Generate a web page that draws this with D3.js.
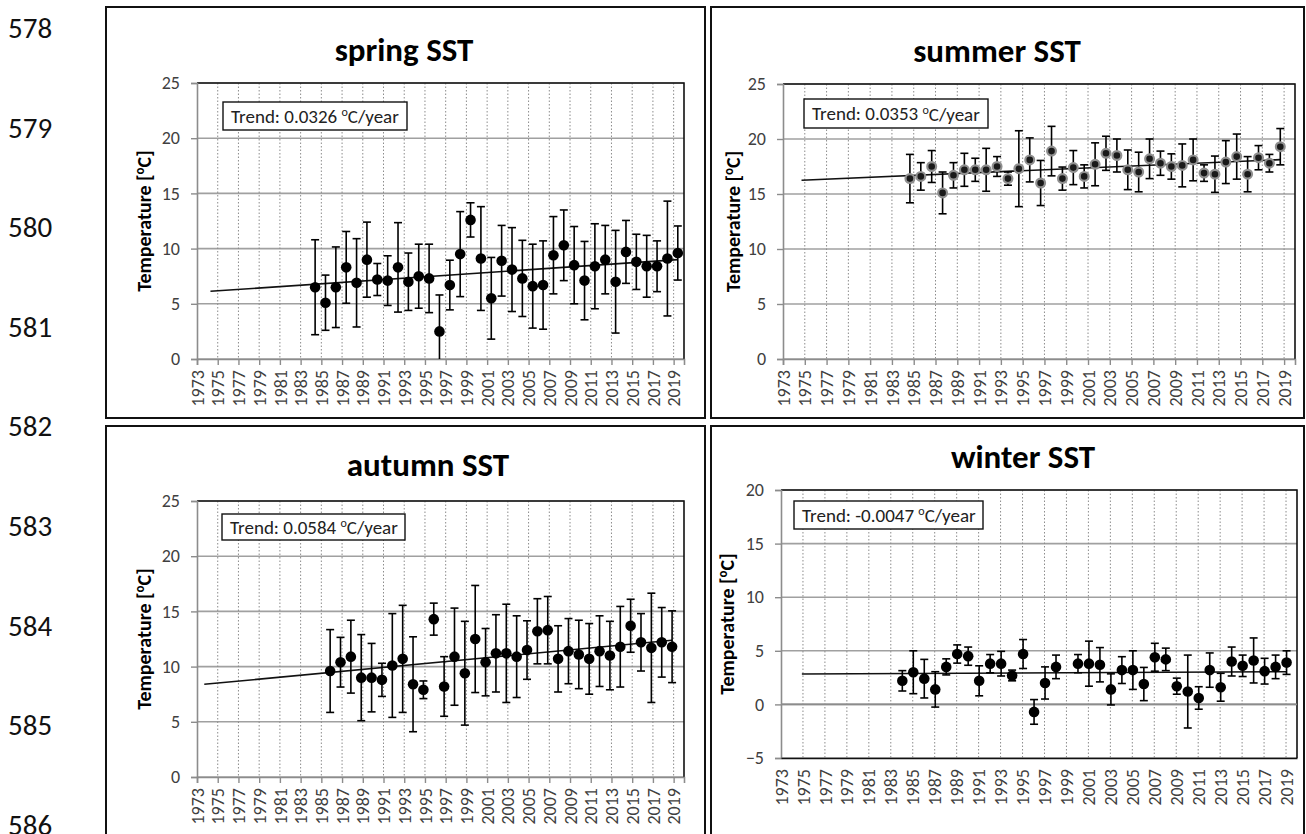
<!DOCTYPE html>
<html>
<head>
<meta charset="utf-8">
<script src="https://cdn.jsdelivr.net/npm/d3@7/dist/d3.min.js"></script>
<style>
  body { margin: 0; background: #fff; }
  svg { display: block; }
  text { font-family: Carlito, Lato, "Open Sans", sans-serif; }
</style>
</head>
<body>
<svg id="chart" width="1306" height="834"></svg>
<script>
// Manuscript line numbers shown in the left margin
const lineNumbers = [578, 579, 580, 581, 582, 583, 584, 585, 586];

// Year labels on the time axis (every second year)
const yearLabels = [1973, 1975, 1977, 1979, 1981, 1983, 1985, 1987, 1989, 1991, 1993, 1995,
  1997, 1999, 2001, 2003, 2005, 2007, 2009, 2011, 2013, 2015, 2017, 2019];

// Spring SST: seasonal mean and standard deviation (°C)
const springYears = [1984, 1985, 1986, 1987, 1988, 1989, 1990, 1991, 1992, 1993, 1994, 1995,
  1996, 1997, 1998, 1999, 2000, 2001, 2002, 2003, 2004, 2005, 2006, 2007, 2008, 2009, 2010,
  2011, 2012, 2013, 2014, 2015, 2016, 2017, 2018, 2019];
const springMean = [6.5, 5.1, 6.5, 8.3, 6.9, 9.0, 7.2, 7.1, 8.3, 7.0, 7.5, 7.3,
  2.5, 6.7, 9.5, 12.6, 9.1, 5.5, 8.9, 8.1, 7.3, 6.6, 6.7, 9.4, 10.3, 8.5, 7.1,
  8.4, 9.0, 7.0, 9.7, 8.8, 8.4, 8.4, 9.1, 9.6];
const springSd = [4.3, 2.5, 3.65, 3.25, 4.0, 3.4, 1.45, 2.25, 4.05, 2.6, 2.9, 3.1,
  3.3, 2.25, 3.85, 1.55, 4.7, 3.7, 3.2, 3.8, 3.45, 3.8, 4.0, 3.5, 3.2, 3.5, 3.55,
  3.85, 3.1, 4.65, 2.85, 2.5, 2.8, 2.3, 5.2, 2.45];

// Summer SST
const summerYears = [1984, 1985, 1986, 1987, 1988, 1989, 1990, 1991, 1992, 1993, 1994, 1995,
  1996, 1997, 1998, 1999, 2000, 2001, 2002, 2003, 2004, 2005, 2006, 2007, 2008, 2009, 2010,
  2011, 2012, 2013, 2014, 2015, 2016, 2017, 2018];
const summerMean = [16.4, 16.6, 17.5, 15.1, 16.7, 17.2, 17.2, 17.2, 17.5, 16.4, 17.3, 18.1,
  16.0, 18.9, 16.4, 17.4, 16.6, 17.7, 18.7, 18.5, 17.2, 17.0, 18.2, 17.8, 17.5, 17.6, 18.1,
  16.9, 16.8, 17.9, 18.4, 16.8, 18.3, 17.8, 19.3];
const summerSd = [2.2, 1.25, 1.45, 1.9, 1.15, 1.5, 1.05, 1.95, 0.9, 0.6, 3.45, 2.0,
  2.05, 2.25, 1.05, 1.55, 1.05, 1.95, 1.55, 1.5, 1.8, 1.8, 1.8, 1.1, 1.15, 1.95, 1.9,
  0.75, 1.65, 1.95, 2.05, 1.6, 1.1, 0.8, 1.65];

// Autumn SST
const autumnYears = [1985, 1986, 1987, 1988, 1989, 1990, 1991, 1992, 1993, 1994, 1995,
  1996, 1997, 1998, 1999, 2000, 2001, 2002, 2003, 2004, 2005, 2006, 2007, 2008, 2009, 2010,
  2011, 2012, 2013, 2014, 2015, 2016, 2017, 2018];
const autumnMean = [9.6, 10.4, 10.9, 9.0, 9.0, 8.8, 10.1, 10.7, 8.4, 7.9, 14.3,
  8.2, 10.9, 9.4, 12.5, 10.4, 11.2, 11.2, 10.9, 11.5, 13.2, 13.3, 10.7, 11.4, 11.1, 10.7,
  11.4, 11.0, 11.8, 13.7, 12.2, 11.7, 12.2, 11.8];
const autumnSd = [3.75, 2.25, 3.3, 3.9, 3.1, 1.5, 4.7, 4.85, 4.3, 0.8, 1.45,
  2.7, 4.4, 4.7, 4.85, 3.05, 3.5, 4.45, 3.7, 2.65, 2.95, 3.05, 3.0, 2.95, 3.1, 3.2,
  3.2, 3.1, 3.65, 2.4, 2.6, 4.95, 3.15, 3.25];

// Winter SST (no value for 1999)
const winterYears = [1984, 1985, 1986, 1987, 1988, 1989, 1990, 1991, 1992, 1993, 1994, 1995,
  1996, 1997, 1998, 2000, 2001, 2002, 2003, 2004, 2005, 2006, 2007, 2008, 2009, 2010,
  2011, 2012, 2013, 2014, 2015, 2016, 2017, 2018, 2019];
const winterMean = [2.2, 3.0, 2.4, 1.4, 3.5, 4.7, 4.5, 2.2, 3.8, 3.8, 2.7, 4.7,
  -0.7, 2.0, 3.5, 3.8, 3.8, 3.7, 1.4, 3.2, 3.2, 1.9, 4.4, 4.2, 1.7, 1.2,
  0.6, 3.2, 1.6, 4.0, 3.6, 4.1, 3.1, 3.5, 3.9];
const winterSd = [0.95, 2.0, 1.8, 1.65, 0.75, 0.85, 0.85, 1.4, 0.85, 1.15, 0.5, 1.35,
  1.15, 1.5, 1.1, 0.85, 2.1, 1.6, 1.45, 1.25, 1.8, 1.55, 1.3, 1.05, 0.75, 3.4,
  1.05, 1.6, 1.3, 1.35, 1.0, 2.1, 1.2, 1.1, 1.1];

// Trend labels and season timing
const seasonNames = ["spring SST", "summer SST", "autumn SST", "winter SST"];
const trendLabels = ["0.0326", "0.0353", "0.0584", "-0.0047"];
const seasonMidYear = [0.4, 0.65, 0.85, 0.05];   // fraction of year at season midpoint
const trendFromYear = [1974.3, 1974.7, 1973.7, 1974.9]; // start of the backward-extended fit line

const seriesData = [
  { years: springYears, mean: springMean, sd: springSd },
  { years: summerYears, mean: summerMean, sd: summerSd },
  { years: autumnYears, mean: autumnMean, sd: autumnSd },
  { years: winterYears, mean: winterMean, sd: winterSd }
];

// Panel geometry
const layout = [
  { box: [106, 7, 599, 411], plot: [197, 83, 684, 359], yDomain: [0, 25], title: [404, 61],
    tbox: [223, 102, 184, 28], ylab: 144, marker: "solid" },
  { box: [711, 7, 593, 411], plot: [783, 84, 1295, 359], yDomain: [0, 25], title: [997, 62],
    tbox: [804, 99, 184, 29], ylab: 733, marker: "glow" },
  { box: [106, 426, 599, 420], plot: [197, 501, 684, 777], yDomain: [0, 25], title: [428, 476],
    tbox: [222, 514, 183, 26], ylab: 144, marker: "solid" },
  { box: [711, 426, 593, 420], plot: [781, 490, 1297, 758], yDomain: [-5, 20], title: [1023, 468],
    tbox: [794, 501, 189, 28], ylab: 727, marker: "solid" }
];

const svg = d3.select("#chart");
const defs = svg.append("defs");

// Margin line numbers
svg.append("g").selectAll("text").data(lineNumbers).join("text")
  .attr("x", 8)
  .attr("y", (d, i) => 38 + i * 99.6)
  .style("font-size", "29px")
  .attr("fill", "#111")
  .text(d => d);

layout.forEach((L, idx) => {
  const S = seriesData[idx];
  const [pl, pt, pr, pb] = L.plot;
  const g = svg.append("g");

  const x = d3.scaleLinear().domain([1973, 2020]).range([pl, pr]);
  const y = d3.scaleLinear().domain(L.yDomain).range([pb, pt]);
  const yTicks = d3.range(L.yDomain[0], L.yDomain[1] + 0.1, 5);

  // Outer frame
  g.append("rect")
    .attr("x", L.box[0]).attr("y", L.box[1])
    .attr("width", L.box[2]).attr("height", L.box[3])
    .attr("fill", "none").attr("stroke", "#111").attr("stroke-width", 2);

  // Title
  g.append("text")
    .attr("x", L.title[0]).attr("y", L.title[1])
    .attr("text-anchor", "middle")
    .style("font-size", "33px").style("font-weight", "bold").attr("fill", "#000")
    .text(seasonNames[idx]);

  // Horizontal grid
  g.append("g").selectAll("line").data(yTicks).join("line")
    .attr("x1", pl).attr("x2", pr)
    .attr("y1", d => y(d)).attr("y2", d => y(d))
    .attr("stroke", "#a0a0a0").attr("stroke-width", 1.6);

  // Vertical dotted grid at labelled years
  g.append("g").selectAll("line").data(yearLabels.filter(d => d > 1973)).join("line")
    .attr("x1", d => x(d)).attr("x2", d => x(d))
    .attr("y1", pt).attr("y2", pb)
    .attr("stroke", "#8c8c8c").attr("stroke-width", 1)
    .attr("stroke-dasharray", "1.5,2");

  // Plot frame (top and right in black)
  g.append("path")
    .attr("d", `M${pl},${pt}H${pr}V${pb}`)
    .attr("fill", "none").attr("stroke", "#111").attr("stroke-width", 1.6);

  // Y axis
  const yAxis = d3.axisLeft(y).tickValues(yTicks).tickSize(6).tickPadding(11);
  const ya = g.append("g").attr("transform", `translate(${pl},0)`).call(yAxis);
  ya.attr("font-size", null).attr("font-family", null);
  ya.select(".domain").attr("stroke", "#8c8c8c").attr("stroke-width", 1.6);
  ya.selectAll(".tick line").attr("stroke", "#8c8c8c").attr("stroke-width", 1.4);
  ya.selectAll(".tick text").style("font-size", "18px").attr("fill", "#404040");

  // X axis at bottom of plot
  const xAxis = d3.axisBottom(x).tickValues(yearLabels).tickFormat(d3.format("d"))
    .tickSize(L.yDomain[0] < 0 ? 0 : 6).tickPadding(0);
  const xa = g.append("g").attr("transform", `translate(0,${pb})`).call(xAxis);
  xa.attr("font-size", null).attr("font-family", null);
  xa.select(".domain").attr("stroke", L.yDomain[0] < 0 ? "#111" : "#8c8c8c").attr("stroke-width", 1.6);
  xa.selectAll(".tick line").attr("stroke", "#8c8c8c").attr("stroke-width", 1.4);
  xa.selectAll(".tick text")
    .style("font-size", "18px").attr("fill", "#404040")
    .attr("text-anchor", "end")
    .attr("transform", "translate(0,11) rotate(-90)")
    .attr("x", 0).attr("y", 0).attr("dy", "0.34em");

  // Zero line for the winter panel
  if (L.yDomain[0] < 0) {
    g.append("line").attr("x1", pl).attr("x2", pr).attr("y1", y(0)).attr("y2", y(0))
      .attr("stroke", "#8c8c8c").attr("stroke-width", 1.6);
  }

  // Y axis title
  g.append("text")
    .attr("transform", `translate(${L.ylab},${(pt + pb) / 2}) rotate(-90)`)
    .attr("text-anchor", "middle").attr("dy", "0.35em")
    .style("font-size", "20px").style("font-weight", "bold").attr("fill", "#000")
    .text("Temperature [")
    .call(t => t.append("tspan").style("font-size", "13px").attr("dy", "-0.55em").text("o"))
    .call(t => t.append("tspan").attr("dy", "0.36em").text("C]"));

  // Data points
  const pts = S.years.map((yr, i) => ({
    t: yr + seasonMidYear[idx], m: S.mean[i], s: S.sd[i]
  }));

  // Linear least-squares trend, extended back to trendFromYear
  const tm = d3.mean(pts, d => d.t), mm = d3.mean(pts, d => d.m);
  const slope = d3.sum(pts, d => (d.t - tm) * (d.m - mm)) / d3.sum(pts, d => (d.t - tm) ** 2);
  const fit = t => mm + slope * (t - tm);
  const tEnd = d3.max(pts, d => d.t);

  const clipId = "clip" + idx;
  defs.append("clipPath").attr("id", clipId).append("rect")
    .attr("x", pl - 8).attr("y", pt).attr("width", pr - pl + 16).attr("height", pb - pt);

  const marks = g.append("g").attr("clip-path", `url(#${clipId})`);

  marks.append("line")
    .attr("x1", x(trendFromYear[idx])).attr("y1", y(fit(trendFromYear[idx])))
    .attr("x2", x(tEnd)).attr("y2", y(fit(tEnd)))
    .attr("stroke", "#111").attr("stroke-width", 1.6);

  const eb = marks.append("g").attr("stroke", "#000").attr("stroke-width", 1.6);
  const cap = 4;
  eb.selectAll("line.v").data(pts).join("line").attr("class", "v")
    .attr("x1", d => x(d.t)).attr("x2", d => x(d.t))
    .attr("y1", d => y(d.m - d.s)).attr("y2", d => y(d.m + d.s));
  eb.selectAll("line.top").data(pts).join("line").attr("class", "top")
    .attr("x1", d => x(d.t) - cap).attr("x2", d => x(d.t) + cap)
    .attr("y1", d => y(d.m + d.s)).attr("y2", d => y(d.m + d.s));
  eb.selectAll("line.bot").data(pts).join("line").attr("class", "bot")
    .attr("x1", d => x(d.t) - cap).attr("x2", d => x(d.t) + cap)
    .attr("y1", d => y(d.m - d.s)).attr("y2", d => y(d.m - d.s));

  const dots = marks.selectAll("circle").data(pts).join("circle")
    .attr("cx", d => x(d.t)).attr("cy", d => y(d.m));
  if (L.marker === "glow") {
    dots.attr("r", 4.4).attr("fill", "#1a1a1a").attr("stroke", "#8f8f8f").attr("stroke-width", 2.2);
  } else {
    dots.attr("r", 5.3).attr("fill", "#000");
  }

  // Trend annotation box
  const tb = L.tbox;
  g.append("rect")
    .attr("x", tb[0]).attr("y", tb[1]).attr("width", tb[2]).attr("height", tb[3])
    .attr("fill", "#fff").attr("stroke", "#111").attr("stroke-width", 1.4);
  g.append("text")
    .attr("x", tb[0] + 8).attr("y", tb[1] + tb[3] / 2).attr("dy", "0.36em")
    .style("font-size", "19px").attr("fill", "#222")
    .text(`Trend: ${trendLabels[idx]} `)
    .call(t => t.append("tspan").style("font-size", "12px").attr("dy", "-0.55em").text("o"))
    .call(t => t.append("tspan").attr("dy", "0.36em").text("C/year"));
});
</script>
</body>
</html>
